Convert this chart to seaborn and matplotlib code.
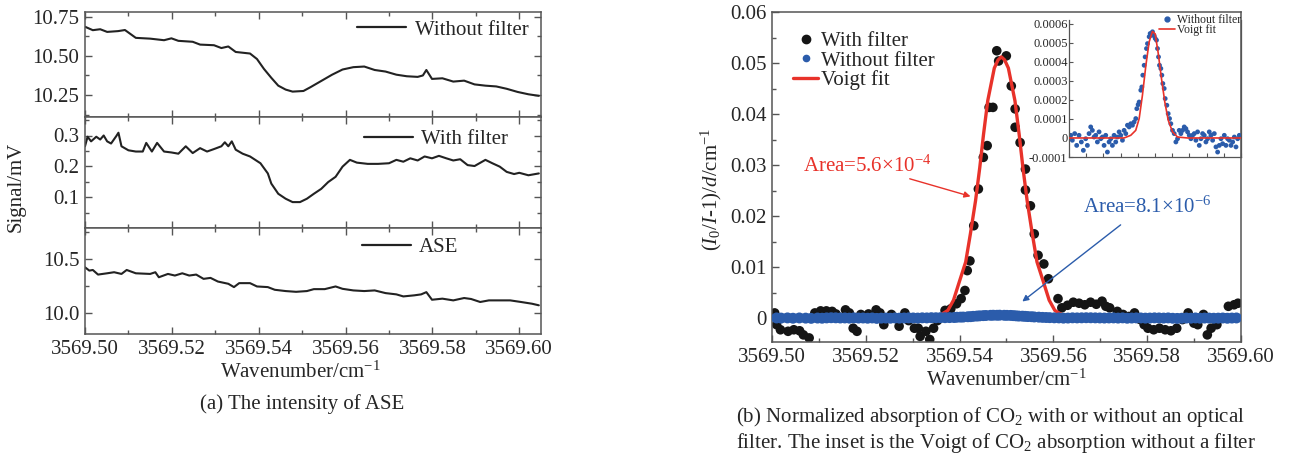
import matplotlib
matplotlib.use("Agg")
import matplotlib.pyplot as plt
import seaborn as sns
import pandas as pd
from matplotlib.ticker import MultipleLocator, FixedLocator, FuncFormatter
from matplotlib.lines import Line2D

# ---------------- data ----------------
# (a) top: without filter
top_x = [3569.5000, 3569.5018, 3569.5035, 3569.5051, 3569.5076, 3569.5092, 3569.5117, 3569.5150,
         3569.5182, 3569.5199, 3569.5215, 3569.5248, 3569.5265, 3569.5297, 3569.5314, 3569.5330,
         3569.5347, 3569.5380, 3569.5396, 3569.5412, 3569.5429, 3569.5445, 3569.5462, 3569.5478,
         3569.5503, 3569.5519, 3569.5544, 3569.5569, 3569.5593, 3569.5618, 3569.5643, 3569.5667,
         3569.5692, 3569.5717, 3569.5741, 3569.5766, 3569.5778, 3569.5786, 3569.5799, 3569.5823,
         3569.5848, 3569.5873, 3569.5897, 3569.5922, 3569.5947, 3569.5971, 3569.5996, 3569.6021,
         3569.6045]
top_y = [10.686, 10.664, 10.670, 10.653, 10.658, 10.665, 10.615, 10.610,
         10.600, 10.612, 10.596, 10.590, 10.572, 10.568, 10.550, 10.560,
         10.525, 10.515, 10.480, 10.417, 10.360, 10.310, 10.285, 10.272,
         10.276, 10.300, 10.340, 10.380, 10.413, 10.428, 10.432, 10.410,
         10.400, 10.380, 10.370, 10.366, 10.375, 10.410, 10.353, 10.357,
         10.336, 10.342, 10.318, 10.310, 10.305, 10.290, 10.270, 10.255,
         10.245]

# (a) middle: with filter
mid_x = [3569.5000, 3569.5006, 3569.5014, 3569.5026, 3569.5035, 3569.5043, 3569.5051, 3569.5060,
         3569.5072, 3569.5077, 3569.5084, 3569.5100, 3569.5117, 3569.5133, 3569.5141, 3569.5154,
         3569.5166, 3569.5182, 3569.5199, 3569.5215, 3569.5232, 3569.5248, 3569.5265, 3569.5281,
         3569.5297, 3569.5314, 3569.5322, 3569.5330, 3569.5338, 3569.5347, 3569.5363, 3569.5380,
         3569.5404, 3569.5421, 3569.5429, 3569.5445, 3569.5462, 3569.5478, 3569.5495, 3569.5511,
         3569.5527, 3569.5544, 3569.5560, 3569.5577, 3569.5593, 3569.5610, 3569.5626, 3569.5651,
         3569.5675, 3569.5700, 3569.5717, 3569.5733, 3569.5749, 3569.5766, 3569.5782, 3569.5799,
         3569.5815, 3569.5832, 3569.5848, 3569.5864, 3569.5881, 3569.5897, 3569.5922, 3569.5938,
         3569.5955, 3569.5971, 3569.5988, 3569.6000, 3569.6021, 3569.6045]
mid_y = [0.265, 0.296, 0.281, 0.296, 0.287, 0.300, 0.281, 0.274,
         0.298, 0.309, 0.265, 0.252, 0.248, 0.248, 0.276, 0.248,
         0.276, 0.248, 0.245, 0.241, 0.265, 0.243, 0.259, 0.248,
         0.256, 0.265, 0.278, 0.265, 0.281, 0.254, 0.241, 0.232,
         0.210, 0.177, 0.144, 0.111, 0.095, 0.084, 0.084, 0.095,
         0.111, 0.127, 0.149, 0.166, 0.199, 0.221, 0.212, 0.208,
         0.208, 0.210, 0.221, 0.215, 0.226, 0.219, 0.232, 0.226,
         0.234, 0.226, 0.219, 0.223, 0.204, 0.201, 0.221, 0.210,
         0.199, 0.182, 0.175, 0.179, 0.171, 0.177]

# (a) bottom: ASE
ase_x = [3569.5000, 3569.5010, 3569.5018, 3569.5030, 3569.5051, 3569.5067, 3569.5084, 3569.5096,
         3569.5117, 3569.5150, 3569.5162, 3569.5170, 3569.5191, 3569.5207, 3569.5224, 3569.5240,
         3569.5256, 3569.5273, 3569.5289, 3569.5306, 3569.5330, 3569.5343, 3569.5355, 3569.5380,
         3569.5396, 3569.5421, 3569.5437, 3569.5462, 3569.5486, 3569.5511, 3569.5527, 3569.5552,
         3569.5577, 3569.5593, 3569.5618, 3569.5643, 3569.5667, 3569.5692, 3569.5717, 3569.5733,
         3569.5758, 3569.5774, 3569.5786, 3569.5799, 3569.5823, 3569.5848, 3569.5873, 3569.5889,
         3569.5910, 3569.5930, 3569.5955, 3569.5979, 3569.6004, 3569.6029, 3569.6045]
ase_y = [10.423, 10.392, 10.398, 10.355, 10.367, 10.377, 10.361, 10.398,
         10.367, 10.361, 10.377, 10.330, 10.361, 10.346, 10.367, 10.346,
         10.355, 10.315, 10.324, 10.290, 10.269, 10.238, 10.275, 10.275,
         10.244, 10.238, 10.213, 10.201, 10.194, 10.201, 10.219, 10.219,
         10.244, 10.222, 10.207, 10.201, 10.207, 10.182, 10.170, 10.151,
         10.161, 10.170, 10.191, 10.120, 10.130, 10.114, 10.136, 10.127,
         10.099, 10.114, 10.114, 10.114, 10.099, 10.083, 10.068]

# (b) with filter (black dots)
wf_x = [3569.50057, 3569.50098, 3569.50180, 3569.50343, 3569.50465, 3569.50588, 3569.50669, 3569.50792,
        3569.50914, 3569.51037, 3569.51159, 3569.51282, 3569.51363, 3569.51445, 3569.51567, 3569.51649,
        3569.51731, 3569.51812, 3569.51894, 3569.52057, 3569.52220, 3569.52302, 3569.52384, 3569.52547,
        3569.52710, 3569.52833, 3569.52914, 3569.53037, 3569.53118, 3569.53159, 3569.53282, 3569.53363,
        3569.53445, 3569.53527, 3569.53690, 3569.53812, 3569.53935, 3569.54033, 3569.54114, 3569.54163,
        3569.54220, 3569.54302, 3569.54400, 3569.54506, 3569.54588, 3569.54629, 3569.54710, 3569.54792,
        3569.54833, 3569.54996, 3569.55102, 3569.55184, 3569.55184, 3569.55290, 3569.55404, 3569.55404,
        3569.55510, 3569.55592, 3569.55673, 3569.55796, 3569.55894, 3569.56098, 3569.56180, 3569.56302,
        3569.56424, 3569.56547, 3569.56669, 3569.56792, 3569.56914, 3569.57037, 3569.57118, 3569.57200,
        3569.57363, 3569.57486, 3569.57608, 3569.57730, 3569.57853, 3569.57935, 3569.58016, 3569.58139,
        3569.58261, 3569.58384, 3569.58506, 3569.58629, 3569.58751, 3569.58873, 3569.58996, 3569.59078,
        3569.59200, 3569.59282, 3569.59363, 3569.59486, 3569.59649, 3569.59731, 3569.59853, 3569.59935]
wf_y = [0.0010, -0.0013, -0.0023, -0.0026, -0.0023, -0.0025, -0.0033, -0.0039,
        0.0010, 0.0014, 0.0014, 0.0013, 0.0008, 0.0001, 0.0016, 0.0010,
        -0.0020, -0.0026, 0.0007, 0.0008, 0.0016, 0.0010, -0.0013, 0.0007,
        -0.0016, 0.0010, -0.0005, -0.0020, -0.0020, -0.0036, -0.0026, -0.0042,
        -0.0020, -0.0005, 0.0015, 0.0018, 0.0028, 0.0038, 0.0054, 0.0093,
        0.0112, 0.0181, 0.0253, 0.0315, 0.0338, 0.0413, 0.0413, 0.0524,
        0.0504, 0.0514, 0.0455, 0.0410, 0.0374, 0.0344, 0.0292, 0.0251,
        0.0220, 0.0165, 0.0123, 0.0106, 0.0077, 0.0038, 0.0020, 0.0025,
        0.0031, 0.0029, 0.0026, 0.0031, 0.0027, 0.0033, 0.0023, 0.0020,
        0.0013, 0.0007, 0.0003, 0.0010, -0.0003, -0.0013, -0.0020, -0.0023,
        -0.0020, -0.0023, -0.0025, -0.0020, -0.0003, 0.0010, -0.0010, -0.0013,
        0.0007, -0.0033, -0.0020, -0.0013, 0.0000, 0.0023, 0.0026, 0.0029]

# (b) without filter (blue dots, also shown in the inset)
nf_x = [3569.50097, 3569.50194, 3569.50330, 3569.50447, 3569.50583, 3569.50718, 3569.50835, 3569.50971,
        3569.51068, 3569.51165, 3569.51262, 3569.51359, 3569.51456, 3569.51553, 3569.51650, 3569.51748,
        3569.51845, 3569.51942, 3569.52039, 3569.52136, 3569.52233, 3569.52330, 3569.52427, 3569.52524,
        3569.52621, 3569.52718, 3569.52816, 3569.52913, 3569.53010, 3569.53107, 3569.53204, 3569.53301,
        3569.53398, 3569.53495, 3569.53592, 3569.53689, 3569.53786, 3569.53883, 3569.53942, 3569.54019,
        3569.54078, 3569.54175, 3569.54233, 3569.54291, 3569.54369, 3569.54427, 3569.54505, 3569.54563,
        3569.54660, 3569.54718, 3569.54796, 3569.54854, 3569.54951, 3569.55010, 3569.55087, 3569.55146,
        3569.55204, 3569.55262, 3569.55340, 3569.55398, 3569.55456, 3569.55534, 3569.55592, 3569.55689,
        3569.55767, 3569.55845, 3569.55922, 3569.56019, 3569.56117, 3569.56214, 3569.56311, 3569.56408,
        3569.56505, 3569.56602, 3569.56699, 3569.56796, 3569.56893, 3569.56990, 3569.57087, 3569.57184,
        3569.57282, 3569.57379, 3569.57476, 3569.57573, 3569.57670, 3569.57767, 3569.57864, 3569.57961,
        3569.58058, 3569.58155, 3569.58252, 3569.58350, 3569.58447, 3569.58544, 3569.58641, 3569.58738,
        3569.58835, 3569.58932, 3569.59029, 3569.59126, 3569.59223, 3569.59320, 3569.59417, 3569.59515,
        3569.59612, 3569.59709, 3569.59806, 3569.59903]
nf_y = [0.000014, -0.000012, 0.000023, -0.000039, 0.000014, -0.000021, -0.000065, -0.000004,
        -0.000039, 0.000023, 0.000058, 0.000040, 0.000005, 0.000014, -0.000021, 0.000032,
        -0.000004, 0.000005, -0.000039, 0.000014, -0.000074, -0.000021, -0.000004, -0.000039,
        0.000014, -0.000021, 0.000005, 0.000032, 0.000014, -0.000012, 0.000040, 0.000023,
        0.000067, 0.000058, 0.000075, 0.000067, 0.000084, 0.000102, 0.000154, 0.000175,
        0.000189, 0.000251, 0.000268, 0.000330, 0.000382, 0.000426, 0.000470, 0.000496,
        0.000532, 0.000549, 0.000540, 0.000558, 0.000537, 0.000523, 0.000514, 0.000470,
        0.000426, 0.000382, 0.000365, 0.000330, 0.000286, 0.000260, 0.000207, 0.000172,
        0.000128, 0.000102, 0.000075, 0.000040, 0.000023, -0.000021, -0.000004, 0.000040,
        0.000023, 0.000040, 0.000058, 0.000049, 0.000032, 0.000014, -0.000004, 0.000014,
        0.000023, -0.000012, 0.000032, -0.000039, -0.000004, 0.000023, 0.000014, -0.000021,
        -0.000004, 0.000032, 0.000014, -0.000012, 0.000023, -0.000047, -0.000074, -0.000039,
        -0.000004, -0.000030, 0.000014, -0.000039, -0.000004, -0.000012, -0.000039, -0.000021,
        0.000005, -0.000047, -0.000004, 0.000014]

# (b) Voigt fit of the with-filter data (main panel)
fit_x = [3569.5354, 3569.5375, 3569.5387, 3569.5398, 3569.5413, 3569.5423, 3569.5434, 3569.5443,
         3569.5451, 3569.5460, 3569.5474, 3569.5482, 3569.5489, 3569.5496, 3569.5504, 3569.5518,
         3569.5527, 3569.5535, 3569.5544, 3569.5555, 3569.5565, 3569.5580, 3569.5591, 3569.5603,
         3569.5624]
fit_y = [0.0003, 0.0015, 0.0035, 0.0067, 0.0110, 0.0165, 0.0230, 0.0295,
         0.0360, 0.0426, 0.0490, 0.0506, 0.0512, 0.0506, 0.0490, 0.0426,
         0.0360, 0.0295, 0.0230, 0.0165, 0.0110, 0.0067, 0.0035, 0.0015,
         0.0003]

# inset Voigt fit of the without-filter data
ifit_x = [3569.5000, 3569.5320, 3569.5359, 3569.5388, 3569.5408, 3569.5427, 3569.5447, 3569.5466,
          3569.5485, 3569.5501, 3569.5518, 3569.5538, 3569.5557, 3569.5577, 3569.5602, 3569.5631,
          3569.5689, 3569.6000]
ifit_y = [0.0, 0.0, 0.000014, 0.000040, 0.000102, 0.000225, 0.000382, 0.000505,
          0.000560, 0.000547, 0.000450, 0.000310, 0.000189, 0.000093, 0.000032, 0.000005,
          0.0, 0.0]

# ---------------- style ----------------
sns.set_theme(style="ticks")
plt.rcParams["font.family"] = ["Liberation Serif", "DejaVu Serif"]
plt.rcParams["mathtext.fontset"] = "custom"
plt.rcParams["mathtext.rm"] = "Liberation Serif"
plt.rcParams["mathtext.it"] = "Liberation Serif:italic"
plt.rcParams["mathtext.bf"] = "Liberation Serif:bold"
plt.rcParams["axes.unicode_minus"] = False

FS = 15
LINE = "#222222"
SPINE = "#555555"
BLACK = "#151515"
BLUE = "#2b5cab"
RED = "#e8322a"

fig = plt.figure(figsize=(12.89, 4.54), dpi=100)
W, H = 1289.0, 454.0


def box(l, t, r, b):
    return [l / W, (H - b) / H, (r - l) / W, (b - t) / H]


axT = fig.add_axes(box(85, 12, 541, 117))
axM = fig.add_axes(box(85, 117, 541, 228))
axB = fig.add_axes(box(85, 228, 541, 334))
axR = fig.add_axes(box(772, 12, 1241, 342))
axI = fig.add_axes(box(1069, 20, 1241, 157))

# ---------------- (a) ----------------
panels = [
    (axT, top_x, top_y, "Without filter", (10.11, 10.78), [10.25, 10.50, 10.75], 0.125, "%.2f", (0.597, 0.83)),
    (axM, mid_x, mid_y, "With filter", (0.0, 0.36), [0.1, 0.2, 0.3], 0.05, "%.1f", (0.612, 0.80)),
    (axB, ase_x, ase_y, "ASE", (9.80, 10.79), [10.0, 10.5], 0.25, "%.1f", (0.607, 0.82)),
]
for ax, xs, ys, lab, ylim, majors, mnr, fmt, lpos in panels:
    df = pd.DataFrame({"x": xs, "y": ys})
    sns.lineplot(data=df, x="x", y="y", ax=ax, color=LINE, lw=1.5, estimator=None,
                 sort=False, label=lab, legend=False)
    ax.set_xlim(3569.50, 3569.605)
    ax.set_ylim(*ylim)
    ax.xaxis.set_major_locator(MultipleLocator(0.02))
    ax.xaxis.set_minor_locator(MultipleLocator(0.01))
    ax.yaxis.set_major_locator(FixedLocator(majors))
    ax.yaxis.set_minor_locator(MultipleLocator(mnr))
    ax.yaxis.set_major_formatter(FuncFormatter(lambda v, p, f=fmt: f % v))
    ax.xaxis.set_major_formatter(FuncFormatter(lambda v, p: "%.2f" % v))
    ax.tick_params(which="both", direction="in", top=True, right=True,
                   color=SPINE, labelsize=FS, pad=4)
    ax.tick_params(which="major", length=5, width=1.0)
    ax.tick_params(which="minor", length=3, width=1.0)
    ax.set_xlabel("")
    ax.set_ylabel("")
    for s in ax.spines.values():
        s.set_color(SPINE)
        s.set_linewidth(1.1)
    ax.legend(handles=[Line2D([], [], color=LINE, lw=1.6)], labels=[lab],
              loc="center left", bbox_to_anchor=lpos, frameon=False, fontsize=FS,
              handlelength=2.35, handletextpad=0.4, borderpad=0, borderaxespad=0)
axT.tick_params(labelbottom=False)
axM.tick_params(labelbottom=False)

fig.text(16 / W, (H - 187) / H, "Signal/mV", rotation=90, ha="center", va="center", fontsize=FS)
fig.text(300 / W, (H - 378) / H, "Wavenumber/cm$^{-1}$", ha="center", va="baseline", fontsize=FS)
fig.text(302 / W, (H - 409) / H, "(a) The intensity of ASE", ha="center", va="baseline", fontsize=FS)

# ---------------- (b) main ----------------
sns.scatterplot(x=wf_x, y=wf_y, ax=axR, color=BLACK, s=48, edgecolor="none", zorder=2)
sns.lineplot(x=fit_x, y=fit_y, ax=axR, color=RED, lw=2.4, estimator=None, sort=False, zorder=3)
sns.scatterplot(x=nf_x, y=nf_y, ax=axR, color=BLUE, s=62, edgecolor="none", zorder=4)
axR.set_xlim(3569.50, 3569.60)
axR.set_ylim(-0.0047, 0.06)
axR.xaxis.set_major_locator(MultipleLocator(0.02))
axR.xaxis.set_minor_locator(MultipleLocator(0.01))
axR.yaxis.set_major_locator(MultipleLocator(0.01))
axR.yaxis.set_minor_locator(MultipleLocator(0.005))
axR.xaxis.set_major_formatter(FuncFormatter(lambda v, p: "%.2f" % v))
axR.yaxis.set_major_formatter(FuncFormatter(lambda v, p: "0" if abs(v) < 1e-9 else "%.2f" % v))
axR.tick_params(which="both", direction="in", color=SPINE, labelsize=FS, pad=4)
axR.tick_params(which="major", length=5, width=1.0)
axR.tick_params(which="minor", length=3, width=1.0)
for s in axR.spines.values():
    s.set_color(SPINE)
    s.set_linewidth(1.1)
axR.set_xlabel("")
axR.set_ylabel("($I_0$/$I$-1)/$d$/cm$^{-1}$", fontsize=FS)
axR.yaxis.set_label_coords(-0.102, 0.461)

handles = [Line2D([], [], ls="", marker="o", color=BLACK, markersize=6),
           Line2D([], [], ls="", marker="o", color=BLUE, markersize=4.5),
           Line2D([], [], color=RED, lw=2.4)]
axR.legend(handles=handles, labels=["With filter", "Without filter", "Voigt fit"],
           loc="upper left", bbox_to_anchor=(0.045, 0.94), frameon=False, fontsize=FS,
           handlelength=1.2, handletextpad=0.15, labelspacing=-0.02, borderpad=0, borderaxespad=0)

axR.text(3569.5066, 0.0298, "Area=5.6×10$^{-4}$", color=RED, fontsize=FS, ha="left", va="center")
axR.annotate("", xy=(3569.5429, 0.0237), xytext=(3569.5288, 0.02745),
             arrowprops=dict(arrowstyle="-|>", color=RED, lw=1.0, mutation_scale=9))
axR.text(3569.5663, 0.0218, "Area=8.1×10$^{-6}$", color=BLUE, fontsize=FS, ha="left", va="center")
axR.annotate("", xy=(3569.5529, 0.0029), xytext=(3569.5748, 0.0186),
             arrowprops=dict(arrowstyle="-|>", color=BLUE, lw=1.0, mutation_scale=9))

fig.text(1006 / W, (H - 386) / H, "Wavenumber/cm$^{-1}$", ha="center", va="baseline", fontsize=FS)
fig.text(736 / W, (H - 422) / H, "(b) Normalized absorption of CO$_2$ with or without an optical",
         ha="left", va="baseline", fontsize=FS)
fig.text(736 / W, (H - 448) / H, "filter. The inset is the Voigt of CO$_2$ absorption without a filter",
         ha="left", va="baseline", fontsize=FS)

# ---------------- inset ----------------
axI.set_facecolor("none")
sns.scatterplot(x=nf_x, y=nf_y, ax=axI, color=BLUE, s=12, edgecolor="none", zorder=2)
sns.lineplot(x=ifit_x, y=ifit_y, ax=axI, color=RED, lw=1.2, estimator=None, sort=False, zorder=3)
axI.set_xlim(3569.50, 3569.60)
axI.set_ylim(-0.0001, 0.00062)
axI.xaxis.set_major_locator(MultipleLocator(0.01))
axI.yaxis.set_major_locator(MultipleLocator(0.0001))
axI.yaxis.set_major_formatter(FuncFormatter(lambda v, p: "0" if abs(v) < 1e-12 else "%.4f" % v))
axI.tick_params(axis="x", direction="in", length=3, width=0.8, color=SPINE, labelbottom=False)
axI.tick_params(axis="y", direction="in", length=3, width=0.8, color=SPINE, labelsize=9, pad=1)
axI.spines["top"].set_visible(False)
for k in ("left", "bottom", "right"):
    axI.spines[k].set_color(SPINE)
    axI.spines[k].set_linewidth(0.9)
axI.set_xlabel("")
axI.set_ylabel("")
ih = [Line2D([], [], ls="", marker="o", color=BLUE, markersize=3.5),
      Line2D([], [], color=RED, lw=1.2)]
axI.legend(handles=ih, labels=["Without filter", "Voigt fit"], loc="upper right",
           bbox_to_anchor=(1.0, 1.045), frameon=False, fontsize=8.5, handlelength=1.3,
           handletextpad=0.2, labelspacing=-0.15, borderpad=0, borderaxespad=0)

fig.savefig("out.png", dpi=100)
